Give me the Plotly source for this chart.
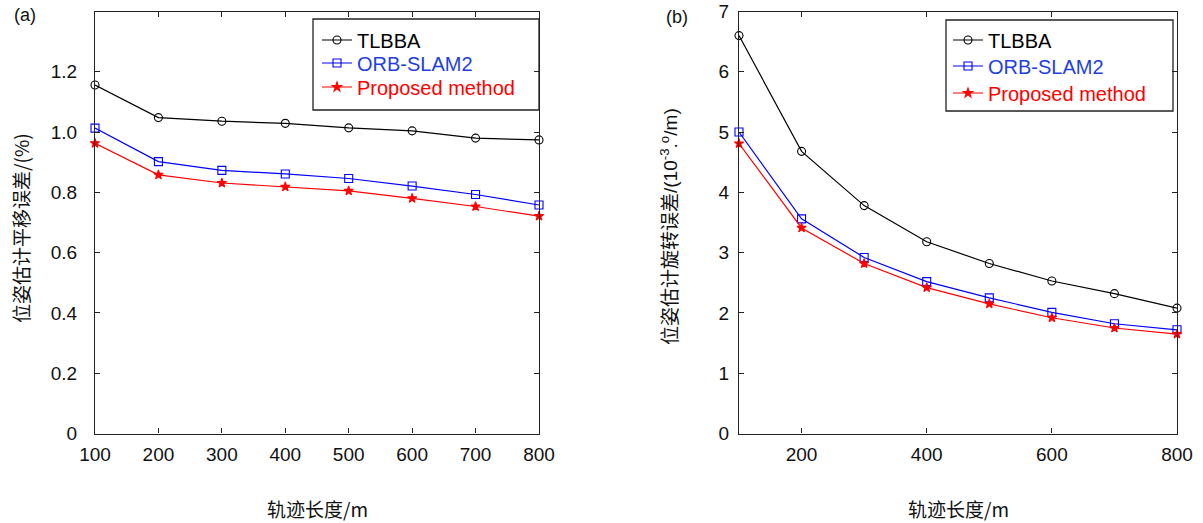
import plotly.graph_objects as go

# ---------------- data ----------------
lengths = [100, 200, 300, 400, 500, 600, 700, 800]

trans_tlbba = [1.156, 1.048, 1.036, 1.029, 1.014, 1.004, 0.980, 0.974]
trans_orb = [1.013, 0.902, 0.873, 0.861, 0.846, 0.821, 0.793, 0.758]
trans_prop = [0.963, 0.858, 0.831, 0.818, 0.805, 0.780, 0.753, 0.721]

rot_tlbba = [6.60, 4.68, 3.78, 3.18, 2.82, 2.53, 2.32, 2.08]
rot_orb = [5.00, 3.56, 2.92, 2.52, 2.25, 2.01, 1.82, 1.72]
rot_prop = [4.81, 3.41, 2.82, 2.42, 2.15, 1.92, 1.75, 1.65]

series_names = ["TLBBA", "ORB-SLAM2", "Proposed method"]
left_yticks = [0, 0.2, 0.4, 0.6, 0.8, 1.0, 1.2]
left_yticktext = ["0", "0.2", "0.4", "0.6", "0.8", "1.0", "1.2"]
left_xticks = [100, 200, 300, 400, 500, 600, 700, 800]
right_xticks = [200, 400, 600, 800]
right_yticks = [0, 1, 2, 3, 4, 5, 6, 7]

xtitle = "轨迹长度/m"
ytitle_left = "位姿估计平移误差/(%)"
ytitle_right = ("位姿估计旋转误差<span style='font-family:Liberation Sans'>"
                "/(10<sup>-3</sup>.<sup>o</sup>/m)</span>")

# ---------------- style ----------------
W, H = 1203, 523
LAT = "Liberation Sans, Arial, sans-serif"
CJK = "Noto Sans CJK SC, Liberation Sans, sans-serif"
colors = ["#000000", "#0000ff", "#ff0000"]
text_colors = ["#000000", "#1f3fe0", "#ff0000"]
symbols = ["circle-open", "square-open", "star"]
msizes = [8, 8, 7]


def px(x):
    return x / W


def py(y):
    return 1 - y / H


fig = go.Figure()

# legend item placement (pixel positions of each entry's line start / centre)
legend_pos = {
    "legend": (317, 40), "legend2": (317, 63), "legend3": (317, 87),
    "legend4": (948, 40), "legend5": (948, 66), "legend6": (948, 93),
}

data_sets = [
    ("x", "y", ["legend", "legend2", "legend3"], [trans_tlbba, trans_orb, trans_prop]),
    ("x2", "y2", ["legend4", "legend5", "legend6"], [rot_tlbba, rot_orb, rot_prop]),
]
for xa, ya, lgs, vals in data_sets:
    for i, v in enumerate(vals):
        fig.add_trace(go.Scatter(
            x=lengths, y=v, xaxis=xa, yaxis=ya, legend=lgs[i],
            mode="lines+markers",
            name=f"<span style='color:{text_colors[i]}'>{series_names[i]}</span>",
            line=dict(color=colors[i], width=1.2),
            marker=dict(symbol=symbols[i], size=msizes[i], color=colors[i],
                        line=dict(color=colors[i], width=1.1)),
            cliponaxis=False,
        ))

ydom = [py(433.5), py(11.5)]
axis_common = dict(
    showline=True, linecolor="#222", linewidth=1.3, mirror="ticks",
    ticks="inside", ticklen=5, tickwidth=1, tickcolor="#222",
    showgrid=False, zeroline=False, automargin=False,
    tickfont=dict(family=LAT, size=19, color="#111"),
)

layout_legends = {}
for name, (lx, ly) in legend_pos.items():
    layout_legends[name] = dict(
        x=px(lx), y=py(ly), xanchor="left", yanchor="middle",
        bgcolor="rgba(0,0,0,0)", borderwidth=0,
        font=dict(family=LAT, size=20), itemwidth=30,
    )

fig.update_layout(
    width=W, height=H,
    margin=dict(l=0, r=0, t=0, b=0, pad=0, autoexpand=False),
    paper_bgcolor="white", plot_bgcolor="white",
    xaxis=dict(domain=[px(95), px(539)], range=[100, 800], tickvals=left_xticks,
               anchor="y", ticklabelstandoff=4, **axis_common),
    yaxis=dict(domain=ydom, range=[0, 1.4], tickvals=left_yticks,
               ticktext=left_yticktext, anchor="x", ticklabelstandoff=13, **axis_common),
    xaxis2=dict(domain=[px(739), px(1177)], range=[100, 800], tickvals=right_xticks,
                anchor="y2", ticklabelstandoff=4, **axis_common),
    yaxis2=dict(domain=ydom, range=[0, 7], tickvals=right_yticks,
                anchor="x2", ticklabelstandoff=5, **axis_common),
    showlegend=True,
    **layout_legends,
)

# legend boxes
fig.add_shape(type="rect", xref="paper", yref="paper",
              x0=px(313), x1=px(539), y0=py(110), y1=py(19),
              line=dict(color="#222", width=1.3), fillcolor="rgba(0,0,0,0)")
fig.add_shape(type="rect", xref="paper", yref="paper",
              x0=px(946), x1=px(1173), y0=py(111), y1=py(20),
              line=dict(color="#222", width=1.3), fillcolor="rgba(0,0,0,0)")

annos = [
    dict(x=px(317), y=py(508), text=xtitle, font=dict(family=CJK, size=19, color="#111")),
    dict(x=px(958), y=py(508), text=xtitle, font=dict(family=CJK, size=19, color="#111")),
    dict(x=px(20), y=py(228), text=ytitle_left, textangle=-90,
         font=dict(family=CJK, size=19, color="#111")),
    dict(x=px(669), y=py(227), text=ytitle_right, textangle=-90,
         font=dict(family=CJK, size=19, color="#111")),
    dict(x=px(25), y=py(15), text="(a)", font=dict(family=LAT, size=18, color="#111")),
    dict(x=px(677), y=py(17), text="(b)", font=dict(family=LAT, size=18, color="#111")),
]
for a in annos:
    fig.add_annotation(xref="paper", yref="paper", xanchor="center", yanchor="middle",
                       showarrow=False, **a)

# remove the browser's default page margin so the figure fills the window exactly
fig.write_html("out.html",
               config={"displayModeBar": False},
               post_script="document.body.style.margin='0';"
                           "document.documentElement.style.overflow='hidden';")
